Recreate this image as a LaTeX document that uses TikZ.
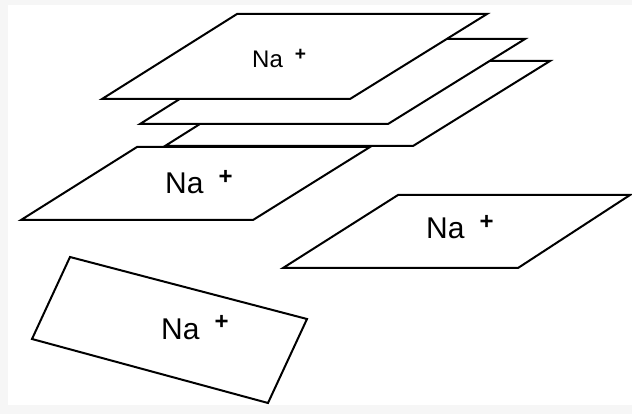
\documentclass[tikz,border=0pt]{standalone}
\usepackage{fontspec}
\setmainfont{Liberation Sans}

% ion label: bold charge, raised and set a little apart from the symbol
\newcommand{\sodium}{Na\hspace{.5em}\raisebox{.33em}{\scalebox{.8}{\bfseries +}}}

\begin{document}
\begin{tikzpicture}[x=1pt, y=-1pt,
    plate/.style={draw=black, fill=white, line width=2pt, line join=miter},
    ion/.style={inner sep=0pt, anchor=base west, font=\fontsize{30}{34}\selectfont},
    smallion/.style={ion, font=\fontsize{24}{28}\selectfont}]

    % Page with a grey margin on the top, left and bottom
    \useasboundingbox (0,0) rectangle (632,414);
    \fill[gray!7] (0,0) rectangle (632,414);
    \fill[white] (8,5) rectangle (632,405);

    % Stack of three sheets, back to front
    % offsets of the sheets behind the top one
    \foreach \dx/\dy in {63/47, 38/25, 0/0} {
        \draw[plate, shift={(\dx,\dy)}] (237,14) -- (487,14) -- (350,99) -- (102,99) -- cycle;
    }
    \node[smallion] (naTop) at (252,68) {\sodium};

    % Single sheet below the stack
    \draw[plate] (137,147) -- (370,147) -- (253,220) -- (21,220) -- cycle;
    \node[ion] (naLayer) at (165,194) {\sodium};

    % Sheet on the right
    \draw[plate] (398,195) -- (630,195) -- (518,268) -- (283,268) -- cycle;
    \node[ion] (naRight) at (426,239) {\sodium};

    % Tilted sheet
    \draw[plate] (70,257) -- (307,319) -- (268,403) -- (32,339) -- cycle;
    \node[ion] (naTilt) at (161,339) {\sodium};

\end{tikzpicture}
\end{document}
